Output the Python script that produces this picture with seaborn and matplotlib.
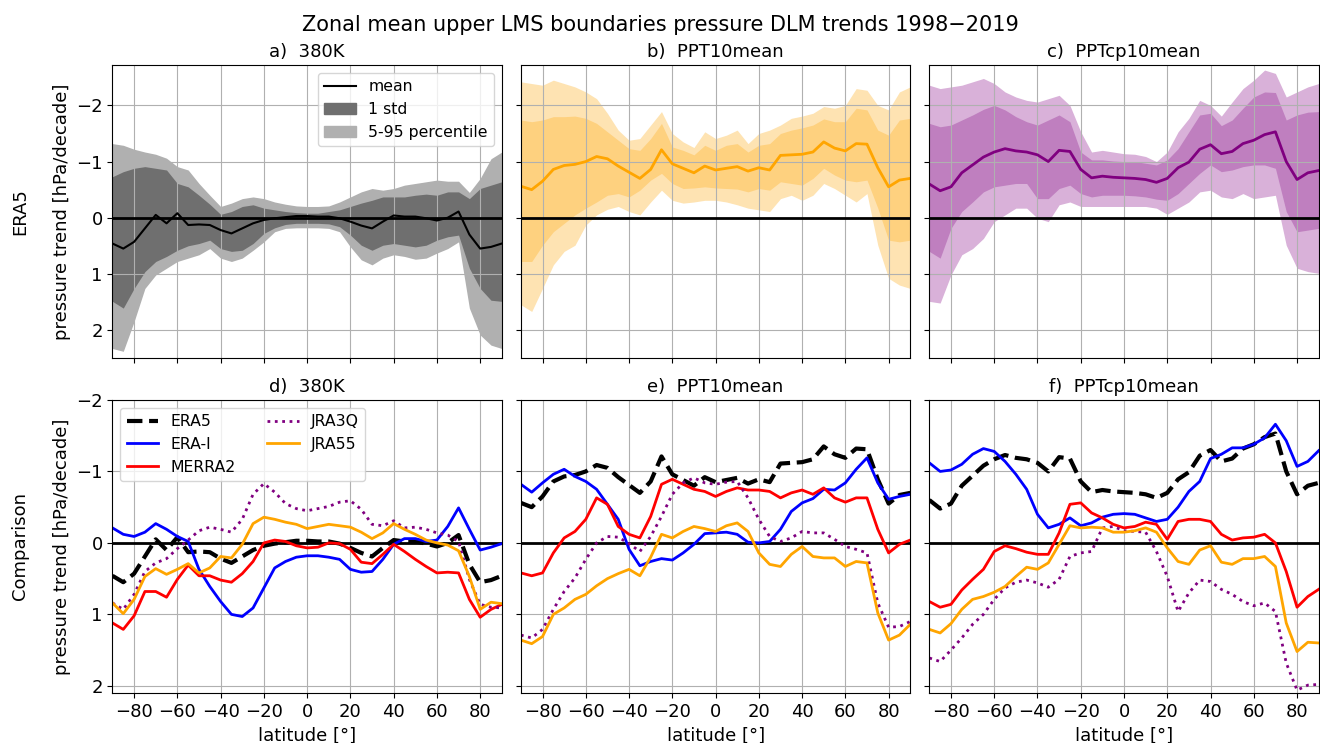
import numpy as np
import matplotlib
matplotlib.use("Agg")
import matplotlib.pyplot as plt
from matplotlib.lines import Line2D
from matplotlib.patches import Patch
import seaborn as sns

# latitude grid (deg)
lat = np.arange(-90, 91, 5)

# ---- ERA5 zonal mean trends (top row), hPa/decade ----
a_mean = [0.46, 0.55, 0.43, 0.19, -0.05, 0.10, -0.08, 0.13, 0.12, 0.13,
          0.22, 0.28, 0.19, 0.10, 0.04, 0.01, -0.01, -0.03, -0.03, -0.02,
          -0.02, 0.01, 0.07, 0.14, 0.19, 0.07, -0.04, -0.02, -0.02, 0.01,
          0.05, 0.00, -0.11, 0.30, 0.55, 0.52, 0.46]
a_std_up = [-0.73, -0.82, -0.88, -0.91, -0.88, -0.85, -0.61, -0.55, -0.40, -0.24,
            -0.06, -0.11, -0.20, -0.23, -0.17, -0.14, -0.11, -0.09, -0.08, -0.08,
            -0.11, -0.14, -0.20, -0.26, -0.31, -0.37, -0.37, -0.37, -0.40, -0.42,
            -0.40, -0.46, -0.46, -0.34, -0.52, -0.58, -0.64]
a_std_lo = [1.49, 1.61, 1.26, 0.96, 0.78, 0.69, 0.58, 0.50, 0.46, 0.40,
            0.55, 0.60, 0.58, 0.46, 0.28, 0.18, 0.12, 0.10, 0.10, 0.10,
            0.11, 0.16, 0.31, 0.49, 0.58, 0.49, 0.46, 0.49, 0.52, 0.49,
            0.40, 0.34, 0.31, 0.90, 1.26, 1.47, 1.49]
a_p95 = [-1.32, -1.29, -1.22, -1.17, -1.13, -1.06, -0.91, -0.85, -0.61, -0.40,
         -0.20, -0.26, -0.34, -0.37, -0.34, -0.28, -0.24, -0.21, -0.20, -0.20,
         -0.21, -0.28, -0.37, -0.46, -0.52, -0.49, -0.52, -0.58, -0.61, -0.64,
         -0.67, -0.65, -0.65, -0.45, -0.70, -1.05, -1.17]
a_p05 = [2.33, 2.38, 1.85, 1.26, 1.02, 0.90, 0.78, 0.72, 0.66, 0.55,
         0.72, 0.78, 0.72, 0.58, 0.43, 0.25, 0.19, 0.18, 0.18, 0.18,
         0.19, 0.25, 0.52, 0.75, 0.84, 0.72, 0.66, 0.69, 0.74, 0.72,
         0.63, 0.55, 0.43, 1.61, 2.09, 2.27, 2.33]

b_mean = [-0.56, -0.50, -0.65, -0.86, -0.93, -0.95, -1.00, -1.09, -1.05, -0.92,
          -0.81, -0.70, -0.86, -1.21, -0.96, -0.88, -0.80, -0.92, -0.85, -0.88,
          -0.91, -0.83, -0.89, -0.85, -1.11, -1.12, -1.13, -1.17, -1.35, -1.24,
          -1.19, -1.32, -1.31, -0.89, -0.55, -0.67, -0.70]
b_std_up = [-1.74, -1.71, -1.74, -1.80, -1.80, -1.81, -1.77, -1.68, -1.53, -1.38,
            -1.23, -1.20, -1.41, -1.68, -1.26, -1.20, -1.12, -1.29, -1.20, -1.29,
            -1.32, -1.17, -1.29, -1.32, -1.50, -1.56, -1.60, -1.65, -1.76, -1.71,
            -1.71, -1.95, -1.92, -1.56, -1.47, -1.74, -1.77]
b_std_lo = [0.78, 0.78, 0.49, 0.25, 0.10, -0.05, -0.17, -0.28, -0.40, -0.43,
            -0.37, -0.49, -0.67, -0.79, -0.61, -0.52, -0.53, -0.55, -0.53, -0.52,
            -0.51, -0.46, -0.52, -0.49, -0.64, -0.61, -0.58, -0.70, -0.88, -0.76,
            -0.67, -0.64, -0.67, -0.17, 0.40, 0.43, 0.40]
b_p95 = [-2.42, -2.39, -2.36, -2.45, -2.39, -2.33, -2.24, -2.12, -1.86, -1.56,
         -1.38, -1.41, -1.65, -1.89, -1.50, -1.35, -1.25, -1.53, -1.41, -1.47,
         -1.56, -1.32, -1.50, -1.56, -1.65, -1.77, -1.81, -1.86, -1.98, -1.95,
         -2.00, -2.30, -2.27, -2.00, -1.92, -2.24, -2.33]
b_p05 = [1.55, 1.67, 1.26, 0.84, 0.60, 0.49, 0.13, -0.05, -0.15, -0.20,
         -0.11, -0.05, -0.28, -0.49, -0.31, -0.26, -0.28, -0.31, -0.31, -0.28,
         -0.23, -0.17, -0.14, -0.11, -0.34, -0.40, -0.31, -0.40, -0.61, -0.52,
         -0.40, -0.28, -0.43, 0.49, 1.08, 1.20, 1.26]

c_mean = [-0.60, -0.48, -0.55, -0.80, -0.94, -1.08, -1.17, -1.23, -1.19, -1.17,
          -1.12, -1.00, -1.20, -1.18, -0.86, -0.71, -0.74, -0.72, -0.71, -0.70,
          -0.68, -0.63, -0.70, -0.89, -0.99, -1.22, -1.30, -1.14, -1.18, -1.32,
          -1.38, -1.48, -1.53, -1.00, -0.68, -0.80, -0.84]
c_std_up = [-1.68, -1.62, -1.65, -1.74, -1.83, -1.93, -2.00, -1.92, -1.80, -1.71,
            -1.65, -1.74, -1.83, -1.71, -1.17, -1.03, -1.03, -1.01, -1.00, -1.00,
            -0.97, -0.94, -1.03, -1.23, -1.53, -1.83, -1.86, -1.64, -1.74, -1.95,
            -2.15, -2.24, -2.23, -1.74, -1.83, -1.88, -1.89]
c_std_lo = [0.60, 0.72, 0.19, -0.11, -0.28, -0.46, -0.55, -0.58, -0.61, -0.61,
            -0.34, -0.34, -0.52, -0.58, -0.43, -0.37, -0.40, -0.40, -0.40, -0.39,
            -0.37, -0.33, -0.31, -0.43, -0.61, -0.79, -0.94, -0.82, -0.85, -0.91,
            -0.94, -0.94, -0.88, -0.11, 0.25, 0.22, 0.19]
c_p95 = [-2.36, -2.30, -2.33, -2.36, -2.42, -2.48, -2.39, -2.24, -2.15, -2.09,
         -2.06, -2.12, -2.18, -2.00, -1.53, -1.17, -1.20, -1.17, -1.14, -1.13,
         -1.09, -1.00, -1.17, -1.53, -1.77, -2.09, -2.00, -1.81, -2.06, -2.30,
         -2.45, -2.63, -2.57, -2.15, -2.24, -2.33, -2.39]
c_p05 = [1.49, 1.52, 1.02, 0.66, 0.55, 0.37, 0.07, -0.05, -0.17, -0.17,
         0.01, 0.07, -0.23, -0.28, -0.20, -0.20, -0.20, -0.20, -0.20, -0.20,
         -0.20, -0.17, -0.06, -0.17, -0.28, -0.46, -0.49, -0.37, -0.34, -0.43,
         -0.34, -0.37, -0.40, 0.49, 0.90, 0.96, 0.99]

# ---- other reanalyses (bottom row) ----
d_erai = [-0.21, -0.12, -0.09, -0.15, -0.27, -0.19, -0.09, -0.02, 0.37, 0.61,
          0.82, 1.00, 1.03, 0.91, 0.63, 0.35, 0.26, 0.20, 0.18, 0.18,
          0.20, 0.23, 0.37, 0.41, 0.40, 0.23, 0.02, -0.06, -0.06, -0.02,
          -0.04, -0.23, -0.49, -0.19, 0.10, 0.06, 0.01]
d_merra2 = [1.12, 1.21, 1.02, 0.68, 0.68, 0.76, 0.51, 0.31, 0.46, 0.46,
            0.52, 0.55, 0.43, 0.26, 0.00, -0.04, -0.02, 0.04, 0.07, 0.06,
            0.00, 0.01, 0.09, 0.27, 0.29, 0.16, 0.02, 0.12, 0.23, 0.33,
            0.42, 0.41, 0.42, 0.79, 1.04, 0.93, 0.86]
d_jra3q = [0.84, 0.93, 0.72, 0.40, 0.28, 0.22, 0.08, -0.04, -0.17, -0.22,
           -0.19, -0.15, -0.33, -0.68, -0.83, -0.71, -0.55, -0.48, -0.45, -0.48,
           -0.51, -0.57, -0.59, -0.47, -0.26, -0.24, -0.31, -0.21, -0.22, -0.19,
           -0.14, -0.11, -0.02, 0.51, 0.86, 0.90, 0.91]
d_jra55 = [0.84, 0.99, 0.79, 0.47, 0.36, 0.44, 0.37, 0.29, 0.42, 0.35,
           0.19, 0.21, 0.02, -0.27, -0.36, -0.33, -0.29, -0.26, -0.20, -0.23,
           -0.26, -0.24, -0.22, -0.15, -0.06, -0.14, -0.27, -0.19, -0.12, -0.04,
           0.00, 0.03, 0.11, 0.47, 0.93, 0.83, 0.85]

e_erai = [-0.82, -0.71, -0.84, -0.96, -1.03, -0.93, -0.86, -0.75, -0.54, -0.33,
          0.09, 0.32, 0.26, 0.22, 0.24, 0.14, 0.02, -0.13, -0.14, -0.15,
          -0.12, -0.01, 0.00, -0.02, -0.19, -0.44, -0.56, -0.62, -0.75, -0.74,
          -0.84, -1.03, -1.19, -0.84, -0.61, -0.65, -0.68]
e_merra2 = [0.42, 0.46, 0.42, 0.14, -0.07, -0.16, -0.33, -0.63, -0.54, -0.23,
            -0.12, -0.07, -0.37, -0.82, -0.89, -0.82, -0.75, -0.72, -0.65, -0.72,
            -0.77, -0.74, -0.74, -0.72, -0.63, -0.70, -0.74, -0.68, -0.77, -0.63,
            -0.57, -0.63, -0.63, -0.19, 0.14, 0.02, -0.04]
e_jra3q = [1.29, 1.33, 1.21, 0.93, 0.68, 0.49, 0.23, 0.00, -0.09, -0.08,
           0.01, 0.12, -0.09, -0.37, -0.68, -0.84, -0.91, -0.84, -0.82, -0.85,
           -0.86, -0.63, -0.33, -0.09, -0.02, -0.07, -0.16, -0.14, -0.14, -0.05,
           0.05, 0.09, 0.14, 0.84, 1.18, 1.17, 1.10]
e_jra55 = [1.36, 1.41, 1.31, 1.00, 0.91, 0.79, 0.72, 0.60, 0.50, 0.43,
           0.37, 0.46, 0.20, -0.12, -0.07, -0.16, -0.23, -0.20, -0.16, -0.24,
           -0.28, -0.16, 0.14, 0.30, 0.33, 0.16, 0.05, 0.19, 0.21, 0.21,
           0.33, 0.26, 0.28, 0.98, 1.36, 1.29, 1.14]

f_erai = [-1.12, -1.00, -1.02, -1.10, -1.24, -1.32, -1.28, -1.14, -0.96, -0.75,
          -0.40, -0.21, -0.26, -0.35, -0.24, -0.28, -0.36, -0.40, -0.41, -0.40,
          -0.35, -0.30, -0.33, -0.50, -0.72, -0.86, -1.18, -1.24, -1.33, -1.33,
          -1.38, -1.47, -1.66, -1.43, -1.07, -1.14, -1.29]
f_merra2 = [0.82, 0.90, 0.86, 0.66, 0.51, 0.37, 0.12, 0.04, 0.08, 0.13,
            0.16, 0.16, -0.14, -0.54, -0.56, -0.42, -0.35, -0.26, -0.21, -0.23,
            -0.29, -0.26, -0.05, -0.30, -0.33, -0.33, -0.30, -0.12, -0.04, -0.07,
            -0.08, -0.12, 0.00, 0.40, 0.90, 0.75, 0.65]
f_jra3q = [1.61, 1.66, 1.50, 1.33, 1.14, 1.00, 0.79, 0.63, 0.55, 0.52,
           0.56, 0.62, 0.51, 0.19, 0.14, 0.12, -0.21, -0.23, -0.17, -0.16,
           -0.15, 0.12, 0.47, 0.96, 0.70, 0.52, 0.54, 0.65, 0.72, 0.82,
           0.88, 0.84, 0.96, 1.68, 2.06, 1.99, 1.98]
f_jra55 = [1.21, 1.26, 1.13, 0.93, 0.79, 0.75, 0.69, 0.61, 0.47, 0.34,
           0.37, 0.28, 0.02, -0.24, -0.21, -0.22, -0.21, -0.15, -0.15, -0.17,
           -0.21, -0.15, 0.07, 0.26, 0.30, 0.10, 0.04, 0.27, 0.30, 0.22,
           0.22, 0.19, 0.33, 1.12, 1.52, 1.39, 1.40]

titles = ['380K', 'PPT10mean', 'PPTcp10mean']

plt.rcParams['font.size'] = 13
plt.rcParams['font.family'] = ['DejaVu Sans']

fig, axes = plt.subplots(2, 3, figsize=(13.2, 7.43), dpi=100, sharex=True, sharey='row')
fig.subplots_adjust(left=0.0852, right=0.999, top=0.9125, bottom=0.0673,
                    wspace=0.049, hspace=0.143)

# top row: ERA5 mean with spread
top = [
    (a_mean, a_std_up, a_std_lo, a_p95, a_p05, 'black', '#6f6f6f', '#b0b0b0', 1.5),
    (b_mean, b_std_up, b_std_lo, b_p95, b_p05, 'orange', '#fed17f', '#fee3b2', 2),
    (c_mean, c_std_up, c_std_lo, c_p95, c_p05, 'purple', '#bf7fbf', '#d9b1d9', 2),
]
for i, (m, su, sl, pu, pl, col, scol, pcol, lw) in enumerate(top):
    ax = axes[0, i]
    ax.fill_between(lat, pu, pl, color=pcol, lw=0)
    ax.fill_between(lat, su, sl, color=scol, lw=0)
    sns.lineplot(x=lat, y=m, ax=ax, color=col, linewidth=lw)
    ax.axhline(0, color='black', lw=2)
    ax.set_title(f'{"abc"[i]})  {titles[i]}', fontsize=13)
    ax.grid(True)

axes[0, 0].legend(handles=[Line2D([], [], color='black', lw=1.5),
                           Patch(color='#6f6f6f'), Patch(color='#b0b0b0')],
                  labels=['mean', '1 std', '5-95 percentile'],
                  loc='upper right', fontsize=11.3)

# bottom row: comparison of reanalyses
bottom = [
    (a_mean, d_erai, d_merra2, d_jra3q, d_jra55),
    (b_mean, e_erai, e_merra2, e_jra3q, e_jra55),
    (c_mean, f_erai, f_merra2, f_jra3q, f_jra55),
]
for i, (era5, erai, merra2, jra3q, jra55) in enumerate(bottom):
    ax = axes[1, i]
    ax.axhline(0, color='black', lw=2)
    sns.lineplot(x=lat, y=era5, ax=ax, color='black', linewidth=3, linestyle='--', label='ERA5')
    sns.lineplot(x=lat, y=erai, ax=ax, color='blue', linewidth=2, label='ERA-I')
    sns.lineplot(x=lat, y=merra2, ax=ax, color='red', linewidth=2, label='MERRA2')
    sns.lineplot(x=lat, y=jra3q, ax=ax, color='purple', linewidth=2, linestyle=':', label='JRA3Q')
    sns.lineplot(x=lat, y=jra55, ax=ax, color='orange', linewidth=2, label='JRA55')
    ax.set_title(f'{"def"[i]})  {titles[i]}', fontsize=13)
    ax.set_xlabel('latitude [°]')
    ax.grid(True)
    if i == 0:
        ax.legend(loc='upper left', ncol=2, fontsize=11.3)
    else:
        ax.get_legend().remove()

axes[0, 0].set_ylim(2.5, -2.72)
axes[1, 0].set_ylim(2.1, -2.0)
axes[0, 0].set_xlim(-90, 90)
axes[1, 0].set_xticks(np.arange(-80, 81, 20))
axes[0, 0].set_yticks([-2, -1, 0, 1, 2])
axes[1, 0].set_yticks([-2, -1, 0, 1, 2])

axes[0, 0].set_ylabel('ERA5\n\npressure trend [hPa/decade]')
axes[1, 0].set_ylabel('Comparison\n\npressure trend [hPa/decade]')

fig.suptitle('Zonal mean upper LMS boundaries pressure DLM trends 1998\u22122019', fontsize=15)

fig.savefig('out.png', dpi=100)
